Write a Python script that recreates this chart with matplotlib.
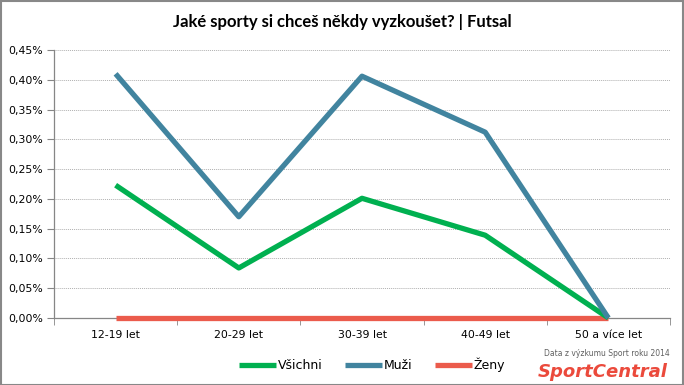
import matplotlib
matplotlib.use("Agg")
import matplotlib.pyplot as plt
from matplotlib.ticker import FuncFormatter, FixedLocator, MultipleLocator
import numpy as np

categories = ["12-19 let", "20-29 let", "30-39 let", "40-49 let", "50 a více let"]
vsichni = [0.223, 0.084, 0.201, 0.139, 0.0]
muzi = [0.410, 0.170, 0.406, 0.312, 0.0]
zeny = [0.0, 0.0, 0.0, 0.0, 0.0]

fig = plt.figure(figsize=(6.84, 3.85), dpi=100)
ax = fig.add_axes([54/684, 67/385, 616/684, 268/385])
x = np.arange(len(categories))
lw = 3.8
ax.plot(x, zeny, color="#EB5B4C", lw=lw, solid_capstyle="butt", solid_joinstyle="round", label="Ženy", zorder=3)
ax.plot(x, vsichni, color="#00B050", lw=lw, solid_capstyle="butt", solid_joinstyle="round", label="Všichni", zorder=4)
ax.plot(x, muzi, color="#41849F", lw=lw, solid_capstyle="butt", solid_joinstyle="round", label="Muži", zorder=5)

ax.set_xlim(-0.5, len(categories) - 0.5)
ax.set_ylim(0, 0.45)
ax.yaxis.set_major_locator(MultipleLocator(0.05))
ax.yaxis.set_major_formatter(FuncFormatter(lambda v, p: f"{v:.2f}%".replace(".", ",")))
ax.set_xticks(x)
ax.set_xticklabels(categories)
ax.xaxis.set_minor_locator(FixedLocator(np.arange(-0.5, len(categories), 1.0)))
ax.tick_params(axis="x", which="major", length=0, pad=9, labelsize=7.8)
ax.tick_params(axis="x", which="minor", length=5, color="#868686")
ax.tick_params(axis="y", length=5, color="#868686", labelsize=7.8, pad=3)
ax.grid(axis="y", color="#B0B0B0", linestyle=(0, (1, 1)), linewidth=0.7)
ax.set_axisbelow(True)
for s in ["top", "right"]:
    ax.spines[s].set_visible(False)
for s in ["left", "bottom"]:
    ax.spines[s].set_color("#868686")
    ax.spines[s].set_linewidth(0.9)
for line in ax.lines:
    line.set_clip_on(False)

fig.text(0.5, 1 - 22/385, "Jaké sporty si chceš někdy vyzkoušet? | Futsal", ha="center", va="center",
         fontsize=12, fontweight="bold", family="Lato")
handles, labels = ax.get_legend_handles_labels()
order = [1, 2, 0]
leg = fig.legend([handles[i] for i in order], [labels[i] for i in order], loc="center",
                 bbox_to_anchor=(372/684, 1 - 365/385), ncol=3, frameon=False,
                 fontsize=9, handlelength=3.0, handletextpad=0.1, columnspacing=1.8)
fig.text(670/684, 1 - 353/385, "Data z výzkumu Sport roku 2014", ha="right", va="center", fontsize=5.5, color="#606060")
fig.text(668/684, 1 - 372/385, "SportCentral", ha="right", va="center", fontsize=13, color="#EB4A3C",
         fontweight="bold", fontstyle="italic")
fig.patches.append(plt.Rectangle((0.001, 0.001), 0.997, 0.997, transform=fig.transFigure,
                                 fill=False, edgecolor="#888888", lw=1.5))
fig.savefig("out.png", dpi=100)
